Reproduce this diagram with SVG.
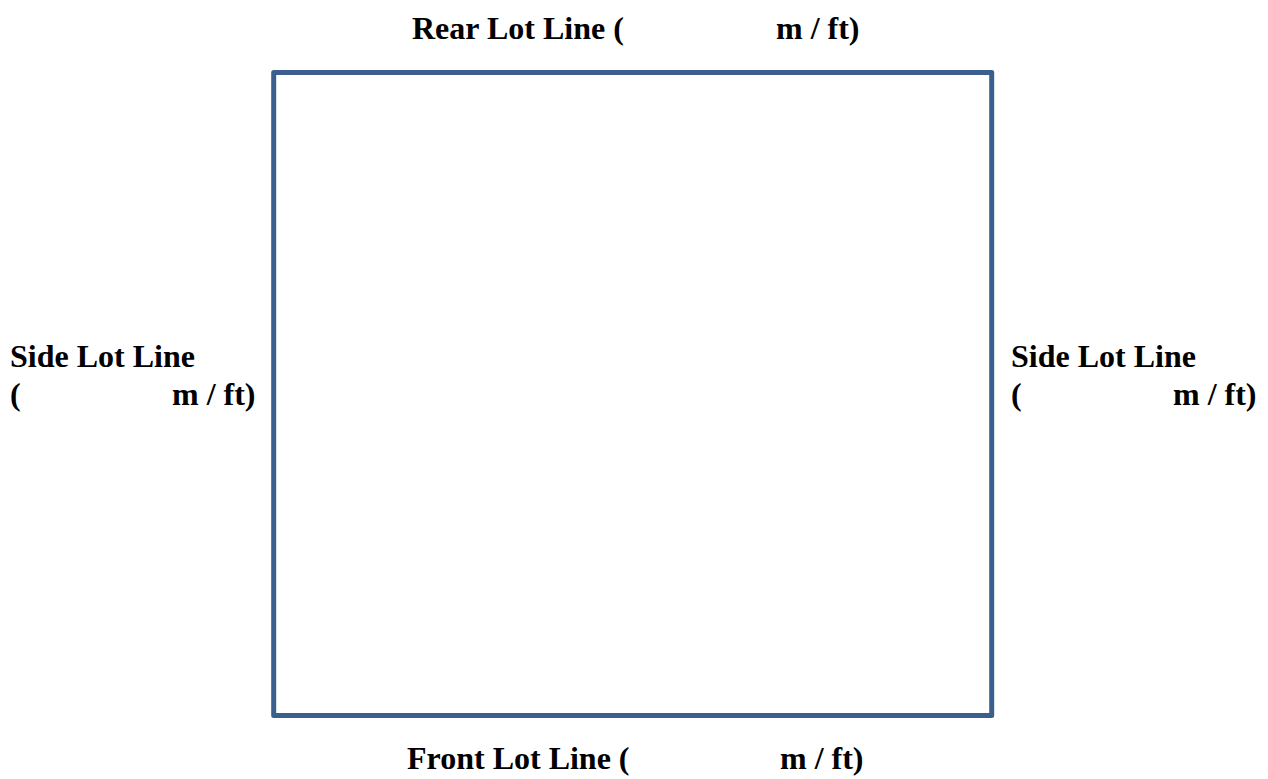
<svg xmlns="http://www.w3.org/2000/svg" width="1268" height="779" viewBox="0 0 1268 779">
<style>
.lbl{font-family:"Liberation Serif","Times New Roman",serif;font-weight:bold;font-size:32px;fill:#000}
.lot{fill:none;stroke:#3a5f8e;stroke-width:5;stroke-linejoin:round}
</style>
<rect x="0" y="0" width="1268" height="779" fill="#fff"/>
<g id="lot">
<rect class="lot" x="273.7" y="72.5" width="718" height="643"/>
</g>
<g id="rear-label">
<text class="lbl" y="39"><tspan x="412">Rear Lot Line (</tspan><tspan x="776">m / ft)</tspan></text>
</g>
<g id="left-label">
<text class="lbl" x="10" y="367">Side Lot Line</text>
<text class="lbl" y="405"><tspan x="10">(</tspan><tspan x="172">m / ft)</tspan></text>
</g>
<g id="right-label">
<text class="lbl" x="1011" y="367">Side Lot Line</text>
<text class="lbl" y="405"><tspan x="1011">(</tspan><tspan x="1173">m / ft)</tspan></text>
</g>
<g id="front-label">
<text class="lbl" y="769"><tspan x="407">Front Lot Line (</tspan><tspan x="780">m / ft)</tspan></text>
</g>
<g id="connectors"></g>
</svg>
